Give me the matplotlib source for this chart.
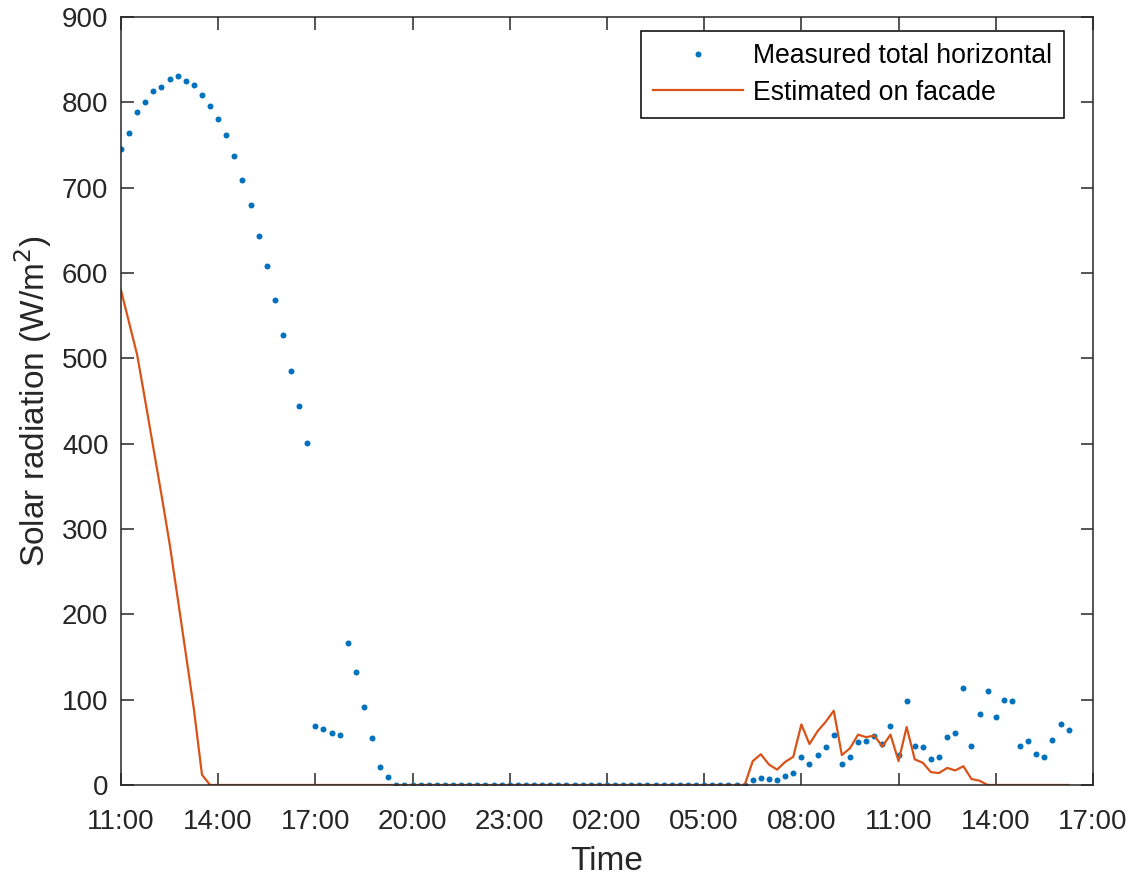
import numpy as np
import matplotlib
matplotlib.use("Agg")
import matplotlib.pyplot as plt

plt.rcParams["font.family"] = ["Liberation Sans", "DejaVu Sans"]

# 15-minute samples starting at 11:00 (hours since start = index * 0.25)
STEP_H = 0.25

measured = [
    745, 764, 789, 801, 813, 818, 828, 831, 825, 821, 809, 796,
    781, 762, 737, 709, 680, 643, 608, 569, 528, 485, 444, 401,
    69, 66, 61, 58, 167, 133, 91, 55, 21, 9,
] + [0] * 44 + [
    5.5, 8.6, 7, 6.3, 10.6, 14, 33, 25, 35, 45, 58, 25, 33, 50, 51, 57, 48, 69, 35, 98,
    46, 45, 30, 33, 56, 61, 114, 46, 83, 110, 80, 100, 98, 46, 51, 36, 33, 53, 72, 65,
]

facade = [
    580, 542, 504, 450, 395, 340, 283, 219, 154, 89, 12, 0,
] + [0] * 66 + [
    28, 36, 24, 18, 27, 33, 71, 48, 63, 74, 87, 35, 43, 59, 56, 58, 45, 59, 28, 68,
    30, 26, 15, 14, 20, 17, 22, 7, 5, 0, 0, 0, 0, 0, 0, 0, 0, 0, 0, 0,
]

tick_hours = [0, 3, 6, 9, 12, 15, 18, 21, 24, 27, 30]
tick_labels = ["11:00", "14:00", "17:00", "20:00", "23:00", "02:00",
               "05:00", "08:00", "11:00", "14:00", "17:00"]

t_meas = np.arange(len(measured)) * STEP_H
t_fac = np.arange(len(facade)) * STEP_H

fig = plt.figure(figsize=(11.36, 8.81), dpi=100)
ax = fig.add_axes([0.1065, 0.109, 0.8556, 0.8715])

ax.plot(t_meas, measured, linestyle="none", marker="o", markersize=4.3,
        markeredgewidth=0, color="#0072BD", label="Measured total horizontal")
ax.plot(t_fac, facade, color="#D95319", linewidth=1.6,
        label="Estimated on facade")

ax.set_xlim(0, 30)
ax.set_ylim(0, 900)
ax.set_xticks(tick_hours)
ax.set_xticklabels(tick_labels)
ax.set_yticks(range(0, 901, 100))

dark = "#262626"
ax.tick_params(direction="in", length=9, width=1.1, colors=dark,
               labelsize=20, top=True, right=True)
ax.tick_params(axis="x", pad=17)
ax.tick_params(axis="y", pad=9)
for s in ax.spines.values():
    s.set_color(dark)
    s.set_linewidth(1.1)

ax.set_xlabel("Time", fontsize=24, color=dark, labelpad=8)
ax.set_ylabel("Solar radiation (W/m$^2$)", fontsize=24, color=dark, labelpad=6)

leg = ax.legend(loc="upper right", bbox_to_anchor=(0.970, 0.982),
                borderaxespad=0, fancybox=False, framealpha=1,
                edgecolor="k", fontsize=19.2, handlelength=3.4,
                handletextpad=0.35, borderpad=0.45, labelspacing=0.4)
leg.get_frame().set_linewidth(1.1)

fig.savefig("out.png", dpi=100)
